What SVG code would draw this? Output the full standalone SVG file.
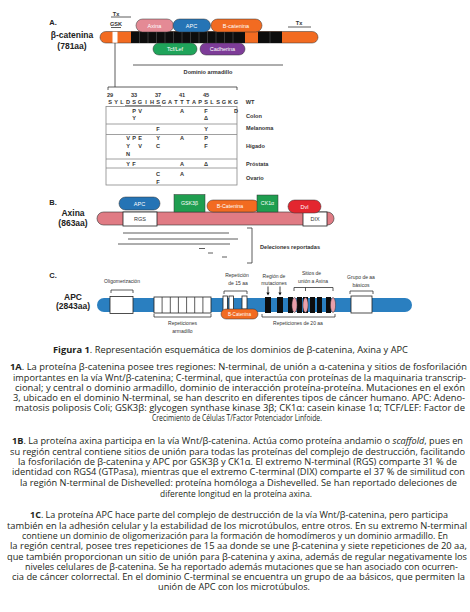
<svg xmlns="http://www.w3.org/2000/svg" width="470" height="612" viewBox="0 0 470 612">
<style>
.lbl{font-family:"Liberation Sans",Arial,sans-serif;font-weight:bold;fill:#222;text-anchor:middle}
.sm{font-family:"Liberation Sans",Arial,sans-serif;fill:#333;text-anchor:middle}
.wt{font-family:"Liberation Sans",Arial,sans-serif;fill:#fff;text-anchor:middle}
.seq{font-family:"Liberation Sans",Arial,sans-serif;font-weight:bold;fill:#333;text-anchor:middle;font-size:5.6px}
.p{font-family:"Open Sans","DejaVu Sans",sans-serif;font-size:8.3px;fill:#231f20}
.ln{stroke:#333;stroke-width:0.8;fill:none}
.tb{stroke:#888;stroke-width:0.8;fill:none}
.pill{stroke:#333;stroke-width:0.5}
.bx{fill:#fff;stroke:#222;stroke-width:0.8}
</style>
<defs>
<marker id="ar" viewBox="0 0 6 6" refX="3" refY="3" markerWidth="4" markerHeight="4" orient="auto"><path d="M0,0 L6,3 L0,6 z" fill="#111"/></marker>
</defs>

<!-- ============ A. beta-catenin ============ -->
<g id="beta-catenina">
<text class="lbl" x="53" y="24.5" font-size="7.5">A.</text>
<text class="lbl" x="72" y="38" font-size="8.5">β-catenina</text>
<text class="lbl" x="72" y="49" font-size="8.5">(781aa)</text>
<text class="seq" x="116" y="15.5" font-size="5">Tx</text>
<line class="ln" x1="111" y1="17" x2="131" y2="17"/>
<text class="seq" x="116" y="26" font-size="5">GSK</text>
<line class="ln" x1="111" y1="27.5" x2="121" y2="27.5" stroke-width="0.5"/>
<text class="seq" x="299" y="24.5" font-size="5">Tx</text>
<line class="ln" x1="288" y1="27" x2="311" y2="27"/>
<rect x="100" y="31.5" width="218" height="11.5" rx="5.75" fill="#f26b21" stroke="#333" stroke-width="0.5"/>
<rect x="112.5" y="31.8" width="5" height="10.9" fill="#fff"/>
<rect x="131" y="31.5" width="114" height="11.5" fill="#0d0d0d"/>
<rect x="258" y="31.5" width="24" height="11.5" fill="#0d0d0d"/>
<g stroke="#666" stroke-width="0.5">
<line x1="139.5" y1="31.5" x2="139.5" y2="43"/><line x1="148" y1="31.5" x2="148" y2="43"/><line x1="156.5" y1="31.5" x2="156.5" y2="43"/><line x1="165" y1="31.5" x2="165" y2="43"/><line x1="173.5" y1="31.5" x2="173.5" y2="43"/><line x1="182" y1="31.5" x2="182" y2="43"/><line x1="190.5" y1="31.5" x2="190.5" y2="43"/><line x1="199" y1="31.5" x2="199" y2="43"/><line x1="207.5" y1="31.5" x2="207.5" y2="43"/><line x1="216" y1="31.5" x2="216" y2="43"/><line x1="224.5" y1="31.5" x2="224.5" y2="43"/><line x1="233" y1="31.5" x2="233" y2="43"/><line x1="270" y1="31.5" x2="270" y2="43"/>
</g>
<rect class="pill" x="136" y="19" width="37.5" height="13" rx="6.5" fill="#e48a95"/>
<text class="wt" x="154.5" y="27.8" font-size="5.5">Axina</text>
<rect class="pill" x="173" y="19" width="37.5" height="13" rx="6.5" fill="#2574b5"/>
<text class="wt" x="191.5" y="27.8" font-size="5.5">APC</text>
<rect class="pill" x="211" y="19" width="51" height="13" rx="6.5" fill="#f26b21"/>
<text class="wt" x="236" y="27.8" font-size="5.5">B-catenina</text>
<rect class="pill" x="153" y="43" width="44" height="12" rx="6" fill="#1fa45a"/>
<text class="wt" x="175" y="51.3" font-size="5.5">Tcf/Lef</text>
<rect class="pill" x="200" y="43" width="45" height="12" rx="6" fill="#7d3c98"/>
<text class="wt" x="222.5" y="51.3" font-size="5.5">Cadherina</text>
<line class="ln" x1="133" y1="65" x2="283" y2="65"/>
<text class="seq" x="208" y="74" font-size="5">Dominio armadillo</text>
<line class="ln" x1="115" y1="43" x2="115" y2="87"/>
<path class="ln" d="M108 90 V87 H237 V90"/>
<text class="seq" y="96.5"><tspan x="110">29</tspan><tspan x="134">33</tspan><tspan x="158">37</tspan><tspan x="182">41</tspan><tspan x="206">45</tspan></text>
<text class="seq" y="104" x="110 116 122 128 134 140 146 152 158 164 170 176 182 188 194 200 206 212 218 224 230 236">SYLDSGIHSGATTTAPSLSGKG</text>
<line class="ln" x1="125" y1="105.8" x2="161" y2="105.8" stroke-width="0.6"/>
<text class="seq" x="250" y="104" font-size="5.4">WT</text>
<rect class="tb" x="106" y="106.5" width="131" height="78.5"/>
<line class="tb" x1="106" y1="124" x2="237" y2="124"/>
<line class="tb" x1="106" y1="134.5" x2="237" y2="134.5"/>
<line class="tb" x1="106" y1="159" x2="237" y2="159"/>
<line class="tb" x1="106" y1="168" x2="237" y2="168"/>
<g class="seq">
<text y="113.3" x="134 140 182 206 236">PVAFD</text>
<text y="120" x="134 206">YΔ</text>
<text y="130.5" x="158 206">FY</text>
<text y="139.8" x="128 134 140 158 182 206">VPEYAP</text>
<text y="147.6" x="128 140 158 206">YVCF</text>
<text y="155.8" x="128">N</text>
<text y="165.8" x="128 134 182 206">YFAΔ</text>
<text y="176" x="158 182">CA</text>
<text y="183.6" x="158">F</text>
</g>
<g class="seq" style="text-anchor:start" font-size="5.4">
<text x="246" y="117.5">Colon</text>
<text x="246" y="130">Melanoma</text>
<text x="246" y="148">Hígado</text>
<text x="246" y="166">Próstata</text>
<text x="246" y="180">Ovario</text>
</g>
</g>

<!-- ============ B. Axina ============ -->
<g id="axina">
<text class="lbl" x="53" y="205" font-size="7.5">B.</text>
<text class="lbl" x="73" y="216" font-size="8.5">Axina</text>
<text class="lbl" x="73" y="226" font-size="8.5">(863aa)</text>
<rect x="97" y="212" width="237" height="13" rx="6.5" fill="#e07b84" stroke="#333" stroke-width="0.6"/>
<rect class="bx" x="123" y="212" width="34" height="14"/>
<text class="sm" x="140" y="221.3" font-size="5.5">RGS</text>
<rect class="bx" x="303" y="212" width="24" height="14"/>
<text class="sm" x="315" y="221.3" font-size="5.5">DIX</text>
<rect class="pill" x="119" y="197" width="41" height="13" rx="6.5" fill="#2574b5"/>
<text class="wt" x="139.5" y="205.6" font-size="5.5">APC</text>
<rect class="pill" x="207" y="200" width="52" height="12" rx="6" fill="#f26b21"/>
<text class="wt" x="230" y="208.2" font-size="5.3">B-Catenina</text>
<rect class="pill" x="174" y="194.5" width="31" height="17.5" fill="#1f9e50"/>
<text class="wt" x="189.5" y="205" font-size="5.3">GSK3β</text>
<rect class="pill" x="257" y="195" width="21" height="17" fill="#1f9e50"/>
<text class="wt" x="267.5" y="205.2" font-size="5.3">CK1α</text>
<rect class="pill" x="288" y="200" width="33" height="13" rx="6.5" fill="#e3262f"/>
<text class="wt" x="304.5" y="208.6" font-size="5.5">Dvl</text>
<line class="ln" x1="123" y1="233" x2="229" y2="233"/>
<line class="ln" x1="128" y1="239" x2="238" y2="239"/>
<line class="ln" x1="118" y1="244" x2="230" y2="244"/>
<line class="ln" x1="199" y1="248.5" x2="205" y2="248.5"/>
<line class="ln" x1="208" y1="253" x2="213" y2="253"/>
<line class="ln" x1="222" y1="257" x2="227" y2="257"/>
<path class="ln" d="M247 228 H252 V263 H247"/>
<text class="seq" x="260" y="249" font-size="5.5" style="text-anchor:start">Deleciones reportadas</text>
</g>

<!-- ============ C. APC ============ -->
<g id="apc">
<text class="lbl" x="53" y="278" font-size="7.5">C.</text>
<text class="lbl" x="73" y="300" font-size="8.5">APC</text>
<text class="lbl" x="73" y="309" font-size="8.5">(2843aa)</text>
<rect x="97" y="298" width="315" height="14" rx="7" fill="#2a7fc0"/>
<text class="sm" x="122" y="283" font-size="5">Oligomerización</text>
<path class="ln" d="M111 293 V290 H133 V293"/>
<rect class="bx" x="110" y="296.5" width="23" height="17"/>
<rect class="bx" x="154" y="297" width="57" height="16"/>
<g class="ln" stroke-width="0.8"><line x1="162.1" y1="297" x2="162.1" y2="313"/><line x1="170.3" y1="297" x2="170.3" y2="313"/><line x1="178.4" y1="297" x2="178.4" y2="313"/><line x1="186.6" y1="297" x2="186.6" y2="313"/><line x1="194.7" y1="297" x2="194.7" y2="313"/><line x1="202.9" y1="297" x2="202.9" y2="313"/></g>
<path class="ln" d="M154 314 V317 H211 V314"/>
<text class="sm" x="182.5" y="325" font-size="5">Repeticiones</text>
<text class="sm" x="182.5" y="333" font-size="5">armadillo</text>
<text class="sm" x="237" y="277" font-size="5">Repetición</text>
<text class="sm" x="238" y="284.5" font-size="5">de 15 aa</text>
<path class="ln" d="M224 294 V291 H247 V294"/>
<rect class="bx" x="223" y="296" width="4.5" height="17"/>
<rect class="bx" x="229" y="296" width="4.5" height="17"/>
<rect class="bx" x="242" y="296" width="5" height="13"/>
<rect class="pill" x="221" y="309" width="37" height="10" rx="5" fill="#f26b21"/>
<text class="wt" x="239.5" y="316" font-size="4.6">B-Catenina</text>
<text class="sm" x="274" y="277.5" font-size="5">Región de</text>
<text class="sm" x="274" y="285" font-size="5">mutaciones</text>
<line x1="268" y1="286.5" x2="268" y2="294" stroke="#111" stroke-width="0.8" marker-end="url(#ar)"/>
<line x1="280" y1="286.5" x2="280" y2="294" stroke="#111" stroke-width="0.8" marker-end="url(#ar)"/>
<g fill="#0d0d0d">
<rect x="265" y="297" width="6" height="16"/><rect x="277" y="297" width="6" height="16"/>
<rect x="288" y="297" width="5" height="16"/><rect x="297" y="297" width="5" height="16"/>
<rect x="303" y="297" width="5" height="16"/><rect x="310" y="297" width="5" height="16"/>
<rect x="317" y="297" width="5" height="16"/><rect x="326" y="297" width="5" height="16"/>
</g>
<g fill="#e9a0aa" stroke="#333" stroke-width="0.5">
<ellipse cx="294.5" cy="305" rx="2.6" ry="7.5"/>
<ellipse cx="305.5" cy="305" rx="2.6" ry="7.5"/>
<ellipse cx="333" cy="305" rx="2.6" ry="7.5"/>
</g>
<text class="sm" x="311.5" y="275" font-size="5">Sitios de</text>
<text class="sm" x="313" y="282.5" font-size="5">unión a Axina</text>
<path class="ln" d="M294 291 V287.5 H333 V291 M305.5 287.5 V291"/>
<path class="ln" d="M262 314 V317 H335 V314"/>
<text class="sm" x="298" y="325" font-size="5">Repeticiones de 20 aa</text>
<text class="sm" x="361" y="279" font-size="5">Grupo de aa</text>
<text class="sm" x="361" y="286.5" font-size="5">básicos</text>
<path class="ln" d="M350 294 V291 H373 V294"/>
<rect class="bx" x="351" y="296" width="21" height="17"/>
</g>

<!-- ============ Caption ============ -->
<g id="caption">
<text x="53" y="353" font-family="'Open Sans','DejaVu Sans',sans-serif" font-size="9.6" fill="#231f20" textLength="355" lengthAdjust="spacingAndGlyphs"><tspan font-weight="bold">Figura 1</tspan>. Representación esquemática de los dominios de β-catenina, Axina y APC</text>
<text class="p" x="10" y="370.3" textLength="457" lengthAdjust="spacingAndGlyphs"><tspan font-weight="bold">1A</tspan>. La proteína β-catenina posee tres regiones: N-terminal, de unión a α-catenina y sitios de fosforilación</text>
<text class="p" x="13" y="380.5" textLength="453" lengthAdjust="spacingAndGlyphs">importantes en la vía Wnt/β-catenina; C-terminal, que interactúa con proteínas de la maquinaria transcrip-</text>
<text class="p" x="15" y="390.8" textLength="450" lengthAdjust="spacingAndGlyphs">cional; y central o dominio armadillo, dominio de interacción proteína-proteína. Mutaciones en el exón</text>
<text class="p" x="13" y="401" textLength="452" lengthAdjust="spacingAndGlyphs">3, ubicado en el dominio N-terminal, se han descrito en diferentes tipos de cáncer humano. APC: Adeno-</text>
<text class="p" x="15" y="411.2" textLength="450" lengthAdjust="spacingAndGlyphs">matosis poliposis Coli; GSK3β: glycogen synthase kinase 3β; CK1α: casein kinase 1α; TCF/LEF: Factor de</text>
<text class="p" x="152" y="421.4" textLength="170" lengthAdjust="spacingAndGlyphs">Crecimiento de Células T/Factor Potenciador Linfoide.</text>

<text class="p" x="12" y="444" textLength="451" lengthAdjust="spacingAndGlyphs"><tspan font-weight="bold">1B</tspan>. La proteína axina participa en la vía Wnt/β-catenina. Actúa como proteína andamio o <tspan font-style="italic">scaffold</tspan>, pues en</text>
<text class="p" x="10" y="454.5" textLength="455" lengthAdjust="spacingAndGlyphs">su región central contiene sitios de unión para todas las proteínas del complejo de destrucción, facilitando</text>
<text class="p" x="18" y="464.8" textLength="439" lengthAdjust="spacingAndGlyphs">la fosforilación de β-catenina y APC por GSK3β y CK1α. El extremo N-terminal (RGS) comparte 31 % de</text>
<text class="p" x="12" y="475.2" textLength="453" lengthAdjust="spacingAndGlyphs">identidad con RGS4 (GTPasa), mientras que el extremo C-terminal (DIX) comparte el 37 % de similitud con</text>
<text class="p" x="20" y="485.6" textLength="437" lengthAdjust="spacingAndGlyphs">la región N-terminal de Dishevelled: proteína homóloga a Dishevelled. Se han reportado deleciones de</text>
<text class="p" x="160" y="496.5" textLength="152" lengthAdjust="spacingAndGlyphs">diferente longitud en la proteína axina.</text>

<text class="p" x="30" y="518.3" textLength="418" lengthAdjust="spacingAndGlyphs"><tspan font-weight="bold">1C</tspan>. La proteína APC hace parte del complejo de destrucción de la vía Wnt/β-catenina, pero participa</text>
<text class="p" x="7" y="529" textLength="460" lengthAdjust="spacingAndGlyphs">también en la adhesión celular y la estabilidad de los microtúbulos, entre otros. En su extremo N-terminal</text>
<text class="p" x="22" y="539.2" textLength="426" lengthAdjust="spacingAndGlyphs">contiene un dominio de oligomerización para la formación de homodímeros y un dominio armadillo. En</text>
<text class="p" x="10" y="549.4" textLength="457" lengthAdjust="spacingAndGlyphs">la región central, posee tres repeticiones de 15 aa donde se une β-catenina y siete repeticiones de 20 aa,</text>
<text class="p" x="7" y="559.7" textLength="460" lengthAdjust="spacingAndGlyphs">que también proporcionan un sitio de unión para β-catenina y axina, además de regular negativamente los</text>
<text class="p" x="25" y="569.9" textLength="433" lengthAdjust="spacingAndGlyphs">niveles celulares de β-catenina. Se ha reportado además mutaciones que se han asociado con ocurren-</text>
<text class="p" x="12" y="580.1" textLength="453" lengthAdjust="spacingAndGlyphs">cia de cáncer colorrectal. En el dominio C-terminal se encuentra un grupo de aa básicos, que permiten la</text>
<text class="p" x="158" y="590.3" textLength="152" lengthAdjust="spacingAndGlyphs">unión de APC con los microtúbulos.</text>
</g>
</svg>
